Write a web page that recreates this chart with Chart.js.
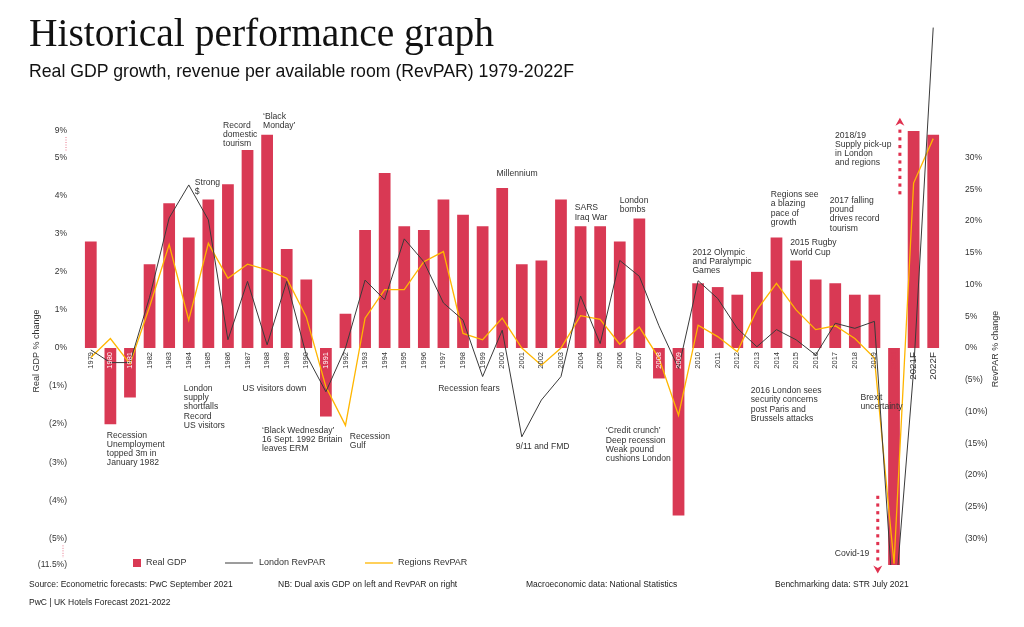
<!DOCTYPE html>
<html><head><meta charset="utf-8">
<script src="https://cdn.jsdelivr.net/npm/chart.js@4/dist/chart.umd.min.js"></script>
<style>
html,body{margin:0;padding:0;background:#fff;}
#wrap{position:relative;width:1024px;height:627px;overflow:hidden;font-family:"Liberation Sans",Arial,sans-serif;color:#222;}
#c{position:absolute;left:0;top:0;}
.t{position:absolute;white-space:nowrap;}
#title{left:29px;top:14px;font-family:"Liberation Serif",serif;font-size:39.5px;line-height:39.5px;color:#111;}
#sub{left:29px;top:63px;font-size:17.7px;line-height:17.7px;color:#111;}
.f{font-size:8.5px;line-height:9px;top:580px;color:#222;}
</style></head><body>
<div id="wrap">
<canvas id="c" width="1024" height="627"></canvas>
<div class="t" id="title">Historical performance graph</div>
<div class="t" id="sub">Real GDP growth, revenue per available room (RevPAR) 1979-2022F</div>
<div class="t f" style="left:29px">Source: Econometric forecasts: PwC September 2021</div>
<div class="t f" style="left:278px">NB: Dual axis GDP on left and RevPAR on right</div>
<div class="t f" style="left:526px">Macroeconomic data: National Statistics</div>
<div class="t f" style="left:775px">Benchmarking data: STR July 2021</div>
<div class="t f" style="left:29px;top:598px">PwC | UK Hotels Forecast 2021-2022</div>
</div>
<script>
const categories = ['1979','1980','1981','1982','1983','1984','1985','1986','1987','1988','1989','1990','1991','1992','1993','1994','1995','1996','1997','1998','1999','2000','2001','2002','2003','2004','2005','2006','2007','2008','2009','2010','2011','2012','2013','2014','2015','2016','2017','2018','2019','2020','2021F','2022F'];
const realGdp = [2.8,-2.0,-1.3,2.2,3.8,2.9,3.9,4.3,5.2,5.6,2.6,1.8,-1.8,0.9,3.1,4.6,3.2,3.1,3.9,3.5,3.2,4.2,2.2,2.3,3.9,3.2,3.2,2.8,3.4,-0.8,-4.4,1.7,1.6,1.4,2.0,2.9,2.3,1.8,1.7,1.4,1.4,-11.5,5.8,5.6];
const londonRevpar = [-0.3,-2.3,-2.3,8.0,20.5,25.7,20.2,1.3,10.5,0.5,10.5,-1.1,-6.9,0.0,10.7,7.6,17.2,13.6,7.1,4.4,-4.5,2.8,-14.0,-8.2,-4.5,8.2,0.7,13.8,11.3,3.5,-3.2,10.6,7.8,3.1,0.2,2.9,1.3,-1.1,3.9,3.1,4.2,-42.0,-3.5,50.5];
const regionsRevpar = [-1.5,1.5,-2.5,6.5,16.3,4.4,16.5,11.0,13.2,12.3,11.0,4.9,-6.1,-12.2,4.7,9.2,9.2,13.6,15.2,2.3,1.3,4.7,0.0,-2.7,0.0,5.1,4.5,0.6,3.3,-1.6,-10.6,3.6,1.8,-0.6,6.0,10.2,6.0,2.9,3.5,1.5,-1.6,-34.0,26.0,33.0];
const gdpTickValues = [-5.7,-5,-4,-3,-2,-1,0,1,2,3,4,5,5.7];
const gdpTickLabels = ['(11.5%)','(5%)','(4%)','(3%)','(2%)','(1%)','0%','1%','2%','3%','4%','5%','9%'];
const revparTickValues = [-30,-25,-20,-15,-10,-5,0,5,10,15,20,25,30];
const revparTickLabels = ['(30%)','(25%)','(20%)','(15%)','(10%)','(5%)','0%','5%','10%','15%','20%','25%','30%'];
const seriesNames = ['Real GDP','London RevPAR','Regions RevPAR'];

const BAR = '#d93954', DARK = '#3a3a3a', GOLD = '#ffb600', TXT = '#333';
const FAM = '"Liberation Sans", Arial, sans-serif';

// annotations anchored in data units (x: category index, y: left-axis value)
const notes = [
 {x:0.82, y:-2.29, lines:['Recession','Unemployment','topped 3m in','January 1982']},
 {x:4.75, y:-1.06, lines:['London','supply','shortfalls','Record','US visitors']},
 {x:7.74, y:-1.06, lines:['US visitors down']},
 {x:8.74, y:-2.16, lines:['\u2018Black Wednesday\u2019','16 Sept. 1992 Britain','leaves ERM']},
 {x:13.22, y:-2.32, lines:['Recession','Gulf']},
 {x:17.73, y:-1.06, lines:['Recession fears']},
 {x:21.69, y:-2.58, lines:['9/11 and FMD']},
 {x:26.29, y:-2.18, lines:['\u2018Credit crunch\u2019','Deep recession','Weak pound','cushions London']},
 {x:33.69, y:-1.12, lines:['2016 London sees','security concerns','post Paris and','Brussels attacks']},
 {x:39.29, y:-1.30, lines:['Brexit','uncertainty']},
 {x:37.98, y:-5.39, lines:['Covid-19']},
 {x:5.31, y:4.35, lines:['Strong','$']},
 {x:6.75, y:5.85, lines:['Record','domestic','tourism']},
 {x:8.79, y:6.09, lines:['\u2018Black','Monday\u2019']},
 {x:20.71, y:4.58, lines:['Millennium']},
 {x:24.70, y:3.68, lines:['SARS','Iraq War']},
 {x:27.0, y:3.88, lines:['London','bombs']},
 {x:30.71, y:2.51, lines:['2012 Olympic','and Paralympic','Games']},
 {x:34.71, y:4.03, lines:['Regions see','a blazing','pace of','growth']},
 {x:35.70, y:2.76, lines:['2015 Rugby','World Cup']},
 {x:37.72, y:3.88, lines:['2017 falling','pound','drives record','tourism']},
 {x:37.99, y:5.59, lines:['2018/19','Supply pick-up','in London','and regions']}
];
const arrows = [{x:41.3, from:4.08, to:6.05},{x:40.17, from:-3.92, to:-5.92}];

const negIdx = realGdp.map((v,i)=>v<0?i:-1).filter(i=>i>=0);

const extras = {
  id:'extras',
  afterDraw(chart){
    const {ctx, chartArea:a, scales:{x, y}} = chart;
    ctx.save();
    ctx.fillStyle = TXT; ctx.font = '8.6px '+FAM; ctx.textAlign='left'; ctx.textBaseline='middle';
    notes.forEach(n=>{
      const px = x.getPixelForValue(n.x), py = y.getPixelForValue(n.y);
      n.lines.forEach((l,i)=>ctx.fillText(l, px, py + i*9.3));
    });
    ctx.fillStyle = '#e0314f';
    arrows.forEach(ar=>{
      const px = x.getPixelForValue(ar.x), y0 = y.getPixelForValue(ar.from), y1 = y.getPixelForValue(ar.to);
      const dir = y1 < y0 ? -1 : 1;
      const headLen = 8;
      const yBase = y1 - dir*headLen;
      for (let yy = y0; dir<0 ? yy > yBase+2 : yy < yBase-2; yy += dir*7.7) {
        ctx.fillRect(px-1.5, yy-1.5, 3, 3.2);
      }
      ctx.beginPath(); ctx.moveTo(px, y1); ctx.lineTo(px-4.5, yBase); ctx.lineTo(px, yBase+dir*2.5); ctx.lineTo(px+4.5, yBase); ctx.closePath(); ctx.fill();
    });
    ctx.strokeStyle = '#e8768b'; ctx.lineWidth = 1; ctx.setLineDash([1,1.5]);
    ctx.beginPath();
    ctx.moveTo(y.right-15, y.getPixelForValue(5.7)+6); ctx.lineTo(y.right-15, y.getPixelForValue(5)-6);
    ctx.moveTo(y.right-18, y.getPixelForValue(-5)+7); ctx.lineTo(y.right-18, y.getPixelForValue(-5.7)-7);
    ctx.stroke(); ctx.setLineDash([]);
    ctx.fillStyle = TXT; ctx.font = '9px '+FAM; ctx.textAlign='center'; ctx.textBaseline='middle';
    const cy = (a.top+a.bottom)/2;
    ctx.save(); ctx.translate(37, cy+3); ctx.rotate(-Math.PI/2); ctx.fillText('Real GDP % change',0,0); ctx.restore();
    ctx.save(); ctx.translate(996, cy+1); ctx.rotate(-Math.PI/2); ctx.fillText('RevPAR % change',0,0); ctx.restore();
    const ly = a.bottom - 2;
    ctx.textAlign='left'; ctx.font='9px '+FAM; ctx.fillStyle = BAR;
    ctx.fillRect(133, ly-4, 8, 8);
    ctx.fillStyle = TXT; ctx.fillText(seriesNames[0], 146, ly);
    ctx.strokeStyle = DARK; ctx.lineWidth=1; ctx.beginPath(); ctx.moveTo(225, ly); ctx.lineTo(253, ly); ctx.stroke();
    ctx.fillText(seriesNames[1], 259, ly);
    ctx.strokeStyle = GOLD; ctx.lineWidth=1.3; ctx.beginPath(); ctx.moveTo(365, ly); ctx.lineTo(393, ly); ctx.stroke();
    ctx.fillText(seriesNames[2], 398, ly);
    ctx.restore();
  }
};

const noPad = s => { s.paddingTop = 0; s.paddingBottom = 0; s.paddingLeft = 0; s.paddingRight = 0; };

new Chart(document.getElementById('c'), {
  type:'bar',
  data:{
    labels: categories,
    datasets:[
      {type:'line', label:seriesNames[1], data:londonRevpar, yAxisID:'y2', borderColor:DARK, borderWidth:1, pointRadius:0, tension:0, order:1, clip:{left:false,right:false,top:false,bottom:0}},
      {type:'line', label:seriesNames[2], data:regionsRevpar, yAxisID:'y2', borderColor:GOLD, borderWidth:1.3, pointRadius:0, tension:0, order:2, clip:{left:false,right:false,top:false,bottom:0}},
      {type:'bar', label:seriesNames[0], data:realGdp, yAxisID:'y', backgroundColor:BAR, barPercentage:0.6, categoryPercentage:1, order:3}
    ]
  },
  options:{
    responsive:false, animation:false, devicePixelRatio:1,
    layout:{padding:{top:131, bottom:62, left:0, right:0}},
    plugins:{legend:{display:false}, tooltip:{enabled:false}},
    scales:{
      x:{type:'category', position:{y:0}, offset:true,
         grid:{display:false, drawTicks:false}, border:{display:false},
         ticks:{z:1, autoSkip:false, minRotation:90, maxRotation:90, padding:4,
           color: c => categories[c.index]==='2020' ? BAR : (negIdx.includes(c.index) ? '#fff' : TXT),
           font: c => ({family:FAM, size: (categories[c.index]||'').endsWith('F') ? 9.8 : 7.5})},
         afterFit: noPad},
      y:{position:'left', min:-5.7, max:5.7, grid:{display:false, drawTicks:false}, border:{display:false},
         afterBuildTicks: s => { s.ticks = gdpTickValues.map(v=>({value:v})); },
         ticks:{padding:14, color:TXT, font:{family:FAM, size:8.5}, callback:(v,i)=>gdpTickLabels[i]},
         afterFit: s => { s.width = 81; noPad(s); }},
      y2:{position:'right', min:-34.2, max:34.2, grid:{display:false, drawTicks:false}, border:{display:false},
         afterBuildTicks: s => { s.ticks = revparTickValues.map(v=>({value:v})); },
         ticks:{padding:22, color:TXT, font:{family:FAM, size:8.5}, callback:(v,i)=>revparTickLabels[i]},
         afterFit: s => { s.width = 81; noPad(s); }}
    }
  },
  plugins:[extras]
});
</script>
</body></html>
